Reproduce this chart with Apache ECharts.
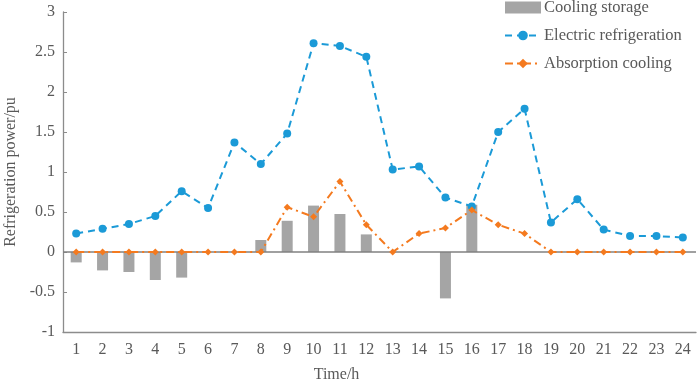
<!DOCTYPE html>
<html><head><meta charset="utf-8">
<script src="https://cdn.jsdelivr.net/npm/echarts@6/dist/echarts.min.js"></script>
<style>html,body{margin:0;padding:0;background:#fff}#c{width:699px;height:383px}</style>
</head><body><div id="c"></div>
<script>
const hours = ['1','2','3','4','5','6','7','8','9','10','11','12','13','14','15','16','17','18','19','20','21','22','23','24'];
const coolingStorage = [-0.13,-0.23,-0.25,-0.35,-0.32,0,0,0.15,0.39,0.58,0.475,0.22,0,0,-0.58,0.59,0,0,0,0,0,0,0,0];
const electricRefrigeration = [0.23,0.29,0.35,0.45,0.76,0.55,1.37,1.10,1.48,2.61,2.575,2.44,1.03,1.07,0.68,0.57,1.50,1.79,0.37,0.66,0.28,0.20,0.20,0.18];
const absorptionCooling = [0,0,0,0,0,0,0,0,0.56,0.44,0.88,0.34,0,0.23,0.30,0.525,0.34,0.23,0,0,0,0,0,0];
const yTicks = [-1,-0.5,0,0.5,1,1.5,2,2.5,3];

const font = 'Liberation Serif';
const txt = '#595959';
const axisC = '#8c8c8c';
const chart = echarts.init(document.getElementById('c'));
chart.setOption({
  animation:false,
  textStyle:{fontFamily:font},
  legend:{
    orient:'vertical', left:504, top:-1, padding:0, itemWidth:36, itemHeight:12, itemGap:11,
    textStyle:{fontFamily:font, fontSize:16.5, color:txt, padding:[0,0,0,-2]},
    data:[
      {name:'Cooling storage', icon:'rect', itemStyle:{color:'#a5a5a5'}},
      {name:'Electric refrigeration'},
      {name:'Absorption cooling'}
    ]
  },
  grid:{left:63, right:3, top:12, bottom:51, containLabel:false, outerBoundsMode:'none'},
  xAxis:{
    type:'category', data:hours, boundaryGap:true,
    name:'Time/h', nameLocation:'middle', nameGap:35,
    nameTextStyle:{fontFamily:font, fontSize:16, color:txt, padding:[0,86,0,0]},
    axisLine:{onZero:false, lineStyle:{color:axisC, width:1.3}},
    axisTick:{inside:true, length:5, alignWithLabel:false, lineStyle:{color:axisC}},
    axisLabel:{fontFamily:font, fontSize:16, color:txt, margin:10}
  },
  yAxis:{
    type:'value', min:-1, max:3, interval:0.5,
    name:'Refrigeration power/pu', nameLocation:'middle', nameGap:42,
    nameTextStyle:{fontFamily:font, fontSize:16, color:txt},
    axisLine:{show:true, lineStyle:{color:axisC, width:1.3}},
    axisTick:{show:true, inside:true, length:4, lineStyle:{color:axisC}},
    axisLabel:{fontFamily:font, fontSize:16, color:txt, margin:8,
      formatter:v=>yTicks.includes(v)?String(v):''},
    splitLine:{show:false}
  },
  series:[
    {name:'Cooling storage', type:'bar', data:coolingStorage, barWidth:11,
     itemStyle:{color:'#a5a5a5'},
     markLine:{silent:true, symbol:['none','none'], label:{show:false},
       lineStyle:{color:'#808080', width:1.5, type:'solid'}, data:[{yAxis:0}]}},
    {name:'Electric refrigeration', type:'line', data:electricRefrigeration,
     symbol:'circle', symbolSize:8, itemStyle:{color:'#1b9ad7'},
     lineStyle:{color:'#1b9ad7', width:2, type:[7,5]}, z:4},
    {name:'Absorption cooling', type:'line', data:absorptionCooling,
     symbol:'diamond', symbolSize:7, itemStyle:{color:'#f47a1f'},
     lineStyle:{color:'#f47a1f', width:2, type:[8,4,2,4]}, z:5}
  ]
});
</script></body></html>
